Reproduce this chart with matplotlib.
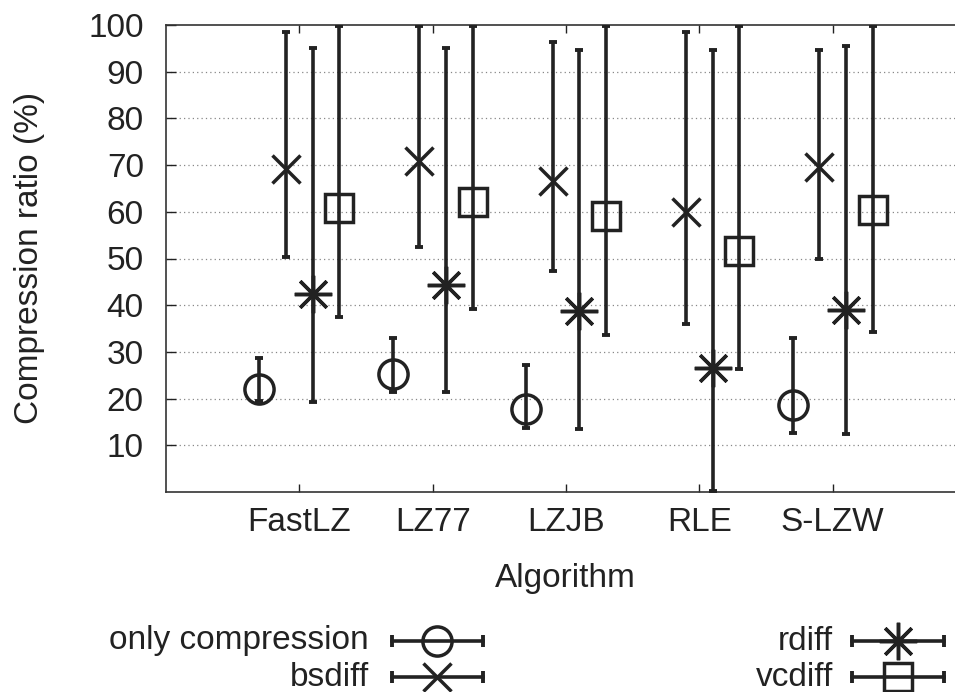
import numpy as np
import matplotlib
matplotlib.use("Agg")
import matplotlib.pyplot as plt
from matplotlib.lines import Line2D

plt.rcParams['font.family'] = ['Liberation Sans', 'DejaVu Sans']

algorithms = ["FastLZ", "LZ77", "LZJB", "RLE", "S-LZW"]
series = ["only compression", "bsdiff", "rdiff", "vcdiff"]

# centre values, lower and upper ends of the error bars (in %)
only_comp_val = [22.1, 25.2, 17.8, np.nan, 18.6]
only_comp_lo = [19.5, 21.4, 13.6, np.nan, 12.6]
only_comp_hi = [28.7, 32.9, 27.1, np.nan, 32.9]

bsdiff_val = [69.1, 70.8, 66.6, 59.9, 69.7]
bsdiff_lo = [50.3, 52.4, 47.4, 35.9, 49.9]
bsdiff_hi = [98.6, 99.8, 96.4, 98.6, 94.7]

rdiff_val = [42.4, 44.4, 38.8, 26.6, 39.0]
rdiff_lo = [19.2, 21.4, 13.5, 0.2, 12.5]
rdiff_hi = [95.1, 95.1, 94.7, 94.6, 95.4]

vcdiff_val = [60.9, 62.0, 59.0, 51.7, 60.4]
vcdiff_lo = [37.5, 39.1, 33.7, 26.4, 34.3]
vcdiff_hi = [99.8, 99.8, 99.8, 99.8, 99.8]

yticks = [10, 20, 30, 40, 50, 60, 70, 80, 90, 100]

W, H = 955, 692
fig = plt.figure(figsize=(W / 100, H / 100), dpi=100)
L, R, T, B = 166, 966, 25, 492
ax = fig.add_axes([L / W, 1 - B / H, (R - L) / W, (B - T) / H])

col = "#222222"
FS = 24
offsets = [-0.3, -0.1, 0.1, 0.3]
markers = ["o", "x", (8, 2, 0), "s"]
msizes = [21, 20, 27, 20]
vals = [only_comp_val, bsdiff_val, rdiff_val, vcdiff_val]
los = [only_comp_lo, bsdiff_lo, rdiff_lo, vcdiff_lo]
his = [only_comp_hi, bsdiff_hi, rdiff_hi, vcdiff_hi]

xpos = np.arange(1, len(algorithms) + 1)
for k in range(4):
    v = np.array(vals[k], dtype=float)
    lo = np.array(los[k], dtype=float)
    hi = np.array(his[k], dtype=float)
    yerr = np.vstack([v - lo, hi - v])
    ax.errorbar(xpos + offsets[k], v, yerr=yerr, fmt="none", ecolor=col,
                elinewidth=2.6, capsize=3.2, capthick=2.8, zorder=3)
    ax.plot(xpos + offsets[k], v, linestyle="none", marker=markers[k],
            markersize=msizes[k], markerfacecolor="none", markeredgecolor=col,
            markeredgewidth=2.5, zorder=4)

ax.set_xlim(0, 6)
ax.set_ylim(0, 100)
ax.set_yticks(yticks)
ax.set_xticks(xpos)
ax.set_xticklabels(algorithms)
for y in yticks[:-1]:
    ax.axhline(y, color="#888888", linestyle=(0, (1, 2.5)), linewidth=0.9, zorder=1)

ax.tick_params(axis="both", which="major", direction="in", labelsize=FS,
               colors=col, width=1.0, length=7)
ax.tick_params(axis="y", pad=16, right=True)
ax.tick_params(axis="x", pad=11, top=True, length=6)
for s in ax.spines.values():
    s.set_linewidth(1.2)
    s.set_color("#333333")

fig.text(30 / W, 1 - 258 / H, "Compression ratio (%)", rotation=90,
         ha="center", va="center", fontsize=FS, color=col)
fig.text(565 / W, 1 - 578 / H, "Algorithm", ha="center", va="center",
         fontsize=FS, color=col)

# legend (drawn manually, gnuplot style)
def px(x, y):
    return x / W, 1 - y / H

leg = [
    (series[0], 369, 392, 483, 437, 641, markers[0], msizes[0]),
    (series[1], 369, 392, 483, 437, 677, markers[1], msizes[1]),
    (series[2], 833, 852, 944, 898, 641, markers[2], msizes[2]),
    (series[3], 833, 852, 944, 898, 677, markers[3], msizes[3]),
]
for lab, tx, x0, x1, xm, yy, mk, ms in leg:
    fig.text(*px(tx, yy), lab, ha="right", va="center", fontsize=FS, color=col)
    fx0, fy = px(x0, yy)
    fx1, _ = px(x1, yy)
    fxm, _ = px(xm, yy)
    fig.add_artist(Line2D([fx0, fx1], [fy, fy], color=col, linewidth=2.6,
                          transform=fig.transFigure))
    fig.add_artist(Line2D([fx0, fx1], [fy, fy], linestyle="none", marker="|",
                          markersize=8, markeredgewidth=2.8, color=col,
                          transform=fig.transFigure))
    fig.add_artist(Line2D([fxm], [fy], linestyle="none", marker=mk,
                          markersize=ms, markerfacecolor="none",
                          markeredgecolor=col, markeredgewidth=2.5,
                          transform=fig.transFigure))

fig.savefig("out.png", dpi=100)
